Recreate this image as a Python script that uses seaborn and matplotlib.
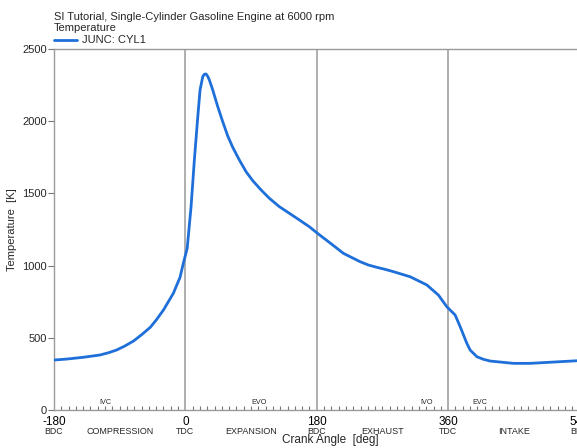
import numpy as np
import pandas as pd
import matplotlib
matplotlib.use("Agg")
import matplotlib.pyplot as plt
import matplotlib.transforms as mtransforms
from matplotlib.ticker import MultipleLocator
import seaborn as sns

# Cylinder temperature vs crank angle
crank_deg = [-180, -162, -140, -117, -105, -94, -83, -71, -59.8, -48, -39.2,
             -30, -23.3, -16.5, -7.3, -2.8, 2.5, 7.8, 12.3, 17.0, 20.1, 23.8,
             26.0, 28.3, 30.5, 32.9, 37.5, 44.4, 51.2, 58.1, 64.9, 74.0, 83.2,
             92.3, 103.7, 115.1, 128.8, 142.5, 156.2, 169.9, 181.4, 192.8,
             205.1, 216.5, 239.4, 250.8, 262.3, 273.7, 285.0, 307.9, 330.8,
             346.7, 358.2, 365.0, 369.6, 376.5, 385.6, 390.2, 399.4, 408.4,
             417.6, 449.5, 472.4, 504.4, 540]
temp_K = [346, 353, 365, 381, 397, 416, 443, 478, 522, 573, 628,
          693, 750, 808, 919, 1016, 1120, 1408, 1731, 2031, 2216, 2308,
          2325, 2327, 2312, 2285, 2216, 2100, 1996, 1897, 1819, 1731, 1650,
          1588, 1524, 1466, 1408, 1362, 1316, 1269, 1222, 1178,
          1130, 1085, 1027, 1004, 988, 974, 958, 923, 866,
          796, 715, 681, 658, 577, 462, 415, 369, 351,
          339, 323, 323, 332, 342]

x_ticks = [-180, 0, 180, 360, 540]
x_tick_labels = ["-180", "0", "180", "360", "540"]
dead_centers = ["BDC", "TDC", "BDC", "TDC", "BDC"]
strokes = ["COMPRESSION", "EXPANSION", "EXHAUST", "INTAKE"]
stroke_pos = [-90, 90, 270, 450]
valve_events = ["IVC", "EVO", "IVO", "EVC"]
valve_pos = [-110, 101, 330, 404]
y_ticks = [0, 500, 1000, 1500, 2000, 2500]

sns.set_theme(style="white")
plt.rcParams["font.family"] = ["Liberation Sans", "DejaVu Sans"]

df = pd.DataFrame({"Crank Angle": crank_deg, "Temperature": temp_K})

fig = plt.figure(figsize=(5.77, 4.48), dpi=100)
ax = fig.add_axes([54 / 577, 38 / 448, (579.5 - 54) / 577, 361 / 448])

line_color = "#1e6fd9"
grey = "#a8a8a8"

for x in [0, 180, 360]:
    ax.axvline(x, color=grey, lw=1.3, zorder=1)

sns.lineplot(data=df, x="Crank Angle", y="Temperature", color=line_color,
             lw=2.0, ax=ax, zorder=3, legend=False)
ax.lines[-1].set_solid_joinstyle("round")

ax.set_xlim(-180, 540)
ax.set_ylim(0, 2500)
ax.set_xticks(x_ticks)
ax.set_xticklabels(x_tick_labels)
ax.set_yticks(y_ticks)
ax.xaxis.set_minor_locator(MultipleLocator(10))
ax.tick_params(axis="x", which="major", length=0, pad=4, labelsize=8.5,
               colors="black")
ax.tick_params(axis="x", which="minor", direction="in", length=3,
               width=0.8, color="#777777", bottom=True)
ax.tick_params(axis="y", which="major", direction="out", length=4,
               width=0.8, color="#777777", left=True, labelsize=8, pad=1)
for side in ["left", "bottom", "top", "right"]:
    ax.spines[side].set_color("#9a9a9a")
    ax.spines[side].set_linewidth(1.0)
ax.grid(False)

ax.set_xlabel("")
ax.set_ylabel("Temperature  [K]", fontsize=8, labelpad=4)

trans = mtransforms.blended_transform_factory(ax.transData, ax.transAxes)
px = 1.0 / 361  # one pixel in axes height units

for x, lab in zip(x_ticks, dead_centers):
    ax.text(x, -21 * px, lab, transform=trans, ha="center", va="center",
            fontsize=6.3, clip_on=False)
for x, lab in zip(stroke_pos, strokes):
    ax.text(x, -21 * px, lab, transform=trans, ha="center", va="center",
            fontsize=6.5, clip_on=False)
for x, lab in zip(valve_pos, valve_events):
    ax.text(x, 8 * px, lab, transform=trans, ha="center", va="center",
            fontsize=5.2, clip_on=False)

ax.text(198, -30 * px, "Crank Angle  [deg]", transform=trans, ha="center",
        va="center", fontsize=8.5, clip_on=False)

# header: title, quantity and legend entry
fig.text(54 / 577, 1 - 17 / 448, "SI Tutorial, Single-Cylinder Gasoline Engine at 6000 rpm",
         ha="left", va="center", fontsize=8)
fig.text(54 / 577, 1 - 28 / 448, "Temperature", ha="left", va="center", fontsize=8)
fig.add_artist(plt.Line2D([54 / 577, 77 / 577], [1 - 40 / 448, 1 - 40 / 448],
                          color=line_color, lw=2.0))
fig.text(82 / 577, 1 - 40 / 448, "JUNC: CYL1", ha="left", va="center", fontsize=8)

fig.savefig("out.png", dpi=100)
